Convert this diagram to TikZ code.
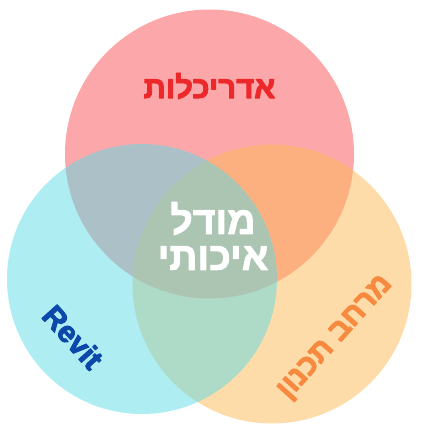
\documentclass[tikz,border=0pt]{standalone}
\usepackage{fontspec}
\setmainfont{Liberation Sans}
\newfontfamily\hebbold[Script=Hebrew]{Liberation Sans Bold}
\TeXXeTstate=1
\newcommand{\heavytext}[1]{\special{pdf:code 2 Tr 1 j 0.9 w}#1\special{pdf:code 0 Tr}}
\definecolor{cred}{RGB}{249,81,85}
\definecolor{ccyan}{RGB}{93,219,229}
\definecolor{corange}{RGB}{253,185,85}
\definecolor{tred}{RGB}{236,40,42}
\definecolor{tblue}{RGB}{12,72,170}
\definecolor{torange}{RGB}{247,138,62}
\tikzset{
  venn/.style={fill opacity=0.5, draw=none},
  lbl/.style={inner sep=0pt}
}
\begin{document}
\begin{tikzpicture}[x=1pt,y=-1pt]
\useasboundingbox (0,0) rectangle (421,437);
\fill[venn, cred] (209.5,154) circle (144.5);
\fill[venn, corange] (272,284) circle (139.5);
\fill[venn, ccyan] (142,279) circle (135);
\node[lbl, text=tred, font=\hebbold\fontsize{31}{31}\selectfont] (arch) at (209.5,86) {\heavytext{\beginR אדריכלות\endR}};
\node[lbl, text=white, align=center, font=\hebbold\fontsize{39}{36}\selectfont] (model) at (213,236) {\heavytext{\beginR מודל\endR}\\\heavytext{\beginR איכותי\endR}};
\node[lbl, text=tblue, rotate=-48, font=\hebbold\fontsize{30}{30}\selectfont] (revit) at (73,337) {\heavytext{Revit}};
\node[lbl, text=torange, rotate=48, font=\hebbold\fontsize{30}{30}\selectfont] (space) at (336,338) {\heavytext{\beginR מרחב תכנון\endR}};
\end{tikzpicture}
\end{document}
